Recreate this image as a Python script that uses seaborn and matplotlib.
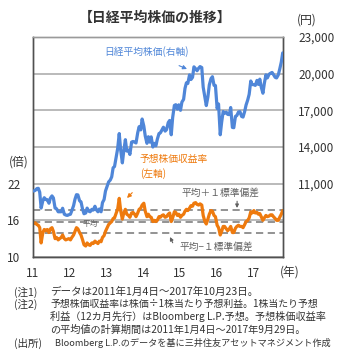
import numpy as np
import pandas as pd
import matplotlib
matplotlib.use("Agg")
import matplotlib.pyplot as plt
import matplotlib.dates as mdates
import seaborn as sns

# ---------------- data (semi-monthly readings) ----------------
nikkei = [
    # 2011
    10400, 10450, 10600, 10620, 10300, 9000, 9600, 9850, 9700, 9690, 9400, 9816,
    10000, 9833, 9000, 8955, 8700, 8700, 8700, 8988, 8500, 8434, 8400, 8455,
    # 2012
    8500, 8800, 9200, 9720, 10100, 10080, 9600, 9520, 8900, 8540, 8600, 9000,
    8750, 8700, 8900, 8840, 9150, 8870, 8700, 8930, 8700, 9450, 9700, 10395,
    # 2013
    10800, 11140, 11300, 11560, 12300, 12400, 13200, 13860, 15100, 13770, 12700, 13680,
    14600, 13670, 13750, 13390, 14400, 14450, 14400, 14330, 15170, 15660, 15400, 16290,
    # 2014
    15700, 14900, 14300, 14840, 14400, 14830, 14000, 14300, 14100, 14630, 15100, 15160,
    15400, 15620, 15300, 15420, 16000, 16170, 15000, 16410, 17400, 17460, 17100, 17450,
    # 2015
    17000, 17670, 17900, 18800, 19250, 19200, 19900, 19520, 19700, 20560, 20400, 20240,
    20450, 20580, 20500, 18900, 18100, 17390, 18100, 19080, 19600, 19750, 19050, 19030,
    # 2016
    17150, 17520, 15000, 16030, 16900, 16760, 16850, 16670, 16650, 17230, 15600, 15580,
    16500, 16570, 16870, 16890, 16500, 16450, 16900, 17430, 17860, 18310, 19400, 19110,
    # 2017
    19100, 19040, 19450, 19120, 19550, 18910, 18400, 19200, 19900, 19650, 19950, 20030,
    20100, 19930, 19700, 19650, 19900, 20360, 20950, 21700,
]
per = [
    # 2011
    15.5, 15.6, 15.3, 15.2, 14.8, 12.3, 14.0, 14.5, 14.3, 14.5, 14.0, 14.6,
    14.8, 14.2, 13.0, 13.2, 12.8, 13.0, 13.2, 13.6, 13.0, 12.8, 12.9, 13.0,
    # 2012
    12.8, 13.2, 13.6, 14.2, 14.8, 14.6, 14.0, 13.6, 12.8, 12.0, 11.8, 12.3,
    12.0, 11.9, 12.3, 12.2, 12.6, 12.4, 12.2, 12.6, 12.5, 13.2, 13.5, 14.2,
    # 2013
    14.8, 15.3, 15.6, 15.8, 16.3, 16.4, 17.2, 17.8, 19.6, 17.6, 16.2, 17.2,
    17.8, 17.0, 16.8, 16.5, 17.2, 17.3, 17.0, 16.6, 17.2, 17.8, 18.0, 18.5,
    # 2014
    18.8, 17.5, 16.6, 17.0, 16.6, 16.5, 15.8, 16.0, 15.8, 16.0, 16.6, 16.5,
    16.8, 16.9, 16.5, 16.6, 17.0, 17.2, 15.8, 16.4, 17.4, 17.3, 16.8, 17.0,
    # 2015
    16.5, 16.8, 17.0, 17.5, 17.8, 17.6, 18.0, 18.4, 18.3, 18.8, 18.9, 18.6,
    18.5, 18.7, 18.5, 16.8, 15.8, 15.4, 16.2, 17.0, 17.6, 17.5, 16.8, 16.6,
    # 2016
    15.2, 14.8, 13.6, 14.2, 15.0, 15.0, 14.6, 14.3, 14.6, 15.0, 14.0, 14.0,
    14.7, 15.0, 15.2, 15.0, 15.0, 14.8, 15.3, 15.8, 16.0, 16.4, 17.4, 17.2,
    # 2017
    17.6, 17.2, 17.3, 17.0, 17.1, 16.6, 16.0, 16.4, 16.8, 16.6, 16.7, 16.9,
    16.9, 16.6, 16.3, 16.0, 16.0, 16.5, 17.0, 17.6,
]
per_mean = 15.8
per_sd = 1.9

year_labels = ["11", "12", "13", "14", "15", "16", "17"]
right_ticks = [5000, 8000, 11000, 14000, 17000, 20000, 23000]
left_ticks = [10, 16, 22, 28, 34, 40, 46]

dates = pd.date_range("2011-01-01", "2017-10-15", freq="SMS") + pd.Timedelta(days=8)
df = pd.DataFrame({"date": dates, "nikkei": nikkei, "per": per})

# ---------------- style ----------------
sns.set_style("white")
plt.rcParams["font.family"] = ["Noto Sans CJK JP", "DejaVu Sans"]
plt.rcParams["axes.unicode_minus"] = False

BLUE = "#4f86d8"
ORANGE = "#ee7a0e"
GRAY = "#606060"
TXT = "#333333"

fig = plt.figure(figsize=(3.55, 3.58), dpi=100)
ax = fig.add_axes([33 / 355, 101 / 358, 250 / 355, 220 / 358])
ax2 = ax.twinx()

# grid lines
ax.set_ylim(10, 46)
ax.set_yticks(left_ticks)
ax.set_yticklabels(["10", "16", "22", "", "", "", ""])
ax.grid(axis="y", color="#b4b4b4", linewidth=1.3)
ax.grid(axis="x", visible=False)
ax.set_axisbelow(True)

# mean and +/- 1 sd lines
for v in [per_mean + per_sd, per_mean, per_mean - per_sd]:
    ax.axhline(v, color="#8a8a8a", linestyle=(0, (4, 2.5)), linewidth=1.3, zorder=1.5)

sns.lineplot(data=df, x="date", y="per", ax=ax, color=ORANGE, linewidth=2.3, zorder=3)
sns.lineplot(data=df, x="date", y="nikkei", ax=ax2, color=BLUE, linewidth=2.3, zorder=3)

ax2.set_ylim(5000, 23000)
ax2.set_yticks(right_ticks)
ax2.set_yticklabels(["", ""] + [f"{t:,}" for t in right_ticks[2:]])
ax2.grid(False)

xmin, xmax = pd.Timestamp("2011-01-01"), pd.Timestamp("2017-10-26")
ax.set_xlim(xmin, xmax)
years = [pd.Timestamp(f"20{y}-01-01") for y in year_labels]
ax.set_xticks(years)
ax.set_xticklabels(year_labels)

for a in (ax, ax2):
    a.set_xlabel("")
    a.set_ylabel("")
    for s in a.spines.values():
        s.set_color("#505050")
        s.set_linewidth(1.0)
    a.spines["top"].set_color("#9a9a9a")

ax.tick_params(axis="x", direction="in", length=3, color="#505050", labelsize=8.5,
               labelcolor=TXT, pad=7)
ax.tick_params(axis="y", length=0, labelsize=8.5, labelcolor=TXT, pad=9)
ax2.tick_params(axis="y", length=0, labelsize=8.5, labelcolor=TXT, pad=11)

# ---------------- texts ----------------
fig.text(155 / 355, 1 - 18 / 358, "【日経平均株価の推移】", ha="center", va="center",
         fontsize=10, fontweight="bold", color=TXT)
fig.text(307 / 355, 1 - 20 / 358, "(円)", ha="center", va="center", fontsize=8.5, color=TXT)
fig.text(19 / 355, 1 - 162 / 358, "(倍)", ha="center", va="center", fontsize=8.5, color=TXT)
fig.text(290 / 355, 1 - 272 / 358, "(年)", ha="center", va="center", fontsize=8.5, color=TXT)


def af(px, py):
    return ((px - 33) / 250, (257 - py) / 220)


ax.annotate("日経平均株価(右軸)", xy=af(187, 69), xytext=af(147, 52), xycoords="axes fraction",
            textcoords="axes fraction", ha="center", va="center", fontsize=7, color=BLUE,
            arrowprops=dict(arrowstyle="-|>", color=BLUE, lw=0.8, mutation_scale=6,
                            shrinkA=9, shrinkB=0))
ax.text(*af(140, 159), "予想株価収益率", transform=ax.transAxes, ha="left", va="center",
        fontsize=7, color=ORANGE)
ax.annotate("(左軸)", xy=af(127, 198), xytext=af(140, 174), xycoords="axes fraction",
            textcoords="axes fraction", ha="left", va="center", fontsize=7, color=ORANGE,
            arrowprops=dict(arrowstyle="-|>", color=ORANGE, lw=0.8, mutation_scale=6,
                            shrinkA=10, shrinkB=0, relpos=(0.2, 0)))
ax.annotate("平均＋１標準偏差", xy=af(237, 208), xytext=af(220, 193), xycoords="axes fraction",
            textcoords="axes fraction", ha="center", va="center", fontsize=7, color=GRAY,
            arrowprops=dict(arrowstyle="-|>", color=GRAY, lw=0.8, mutation_scale=5,
                            shrinkA=0, shrinkB=0, relpos=(0.72, 0)))
ax.text(*af(90, 224), "平均", transform=ax.transAxes, ha="center", va="center",
        fontsize=5.5, color=GRAY)
ax.annotate("平均−１標準偏差", xy=af(170, 237), xytext=af(216, 247), xycoords="axes fraction",
            textcoords="axes fraction", ha="center", va="center", fontsize=7, color=GRAY,
            arrowprops=dict(arrowstyle="-|>", color=GRAY, lw=0.8, mutation_scale=5,
                            shrinkA=1, shrinkB=0, relpos=(-0.08, 0.8)))

notes = [
    (292, "(注1)", "データは2011年1月4日～2017年10月23日。", 7.6),
    (304, "(注2)", "予想株価収益率は株価÷1株当たり予想利益。1株当たり予想", 7.1),
    (317, "", "利益（12カ月先行）はBloomberg L.P.予想。予想株価収益率", 7.3),
    (330, "", "の平均値の計算期間は2011年1月4日～2017年9月29日。", 7.3),
    (343, "(出所)", "Bloomberg L.P.のデータを基に三井住友アセットマネジメント作成", 6.6),
]
for y, pre, body, fs in notes:
    if pre:
        fig.text(14 / 355, 1 - y / 358, pre, ha="left", va="center", fontsize=7.6, color=TXT)
    bx = 55 if pre == "(出所)" else 50
    fig.text(bx / 355, 1 - y / 358, body, ha="left", va="center", fontsize=fs, color=TXT)

fig.savefig("out.png", dpi=100)
